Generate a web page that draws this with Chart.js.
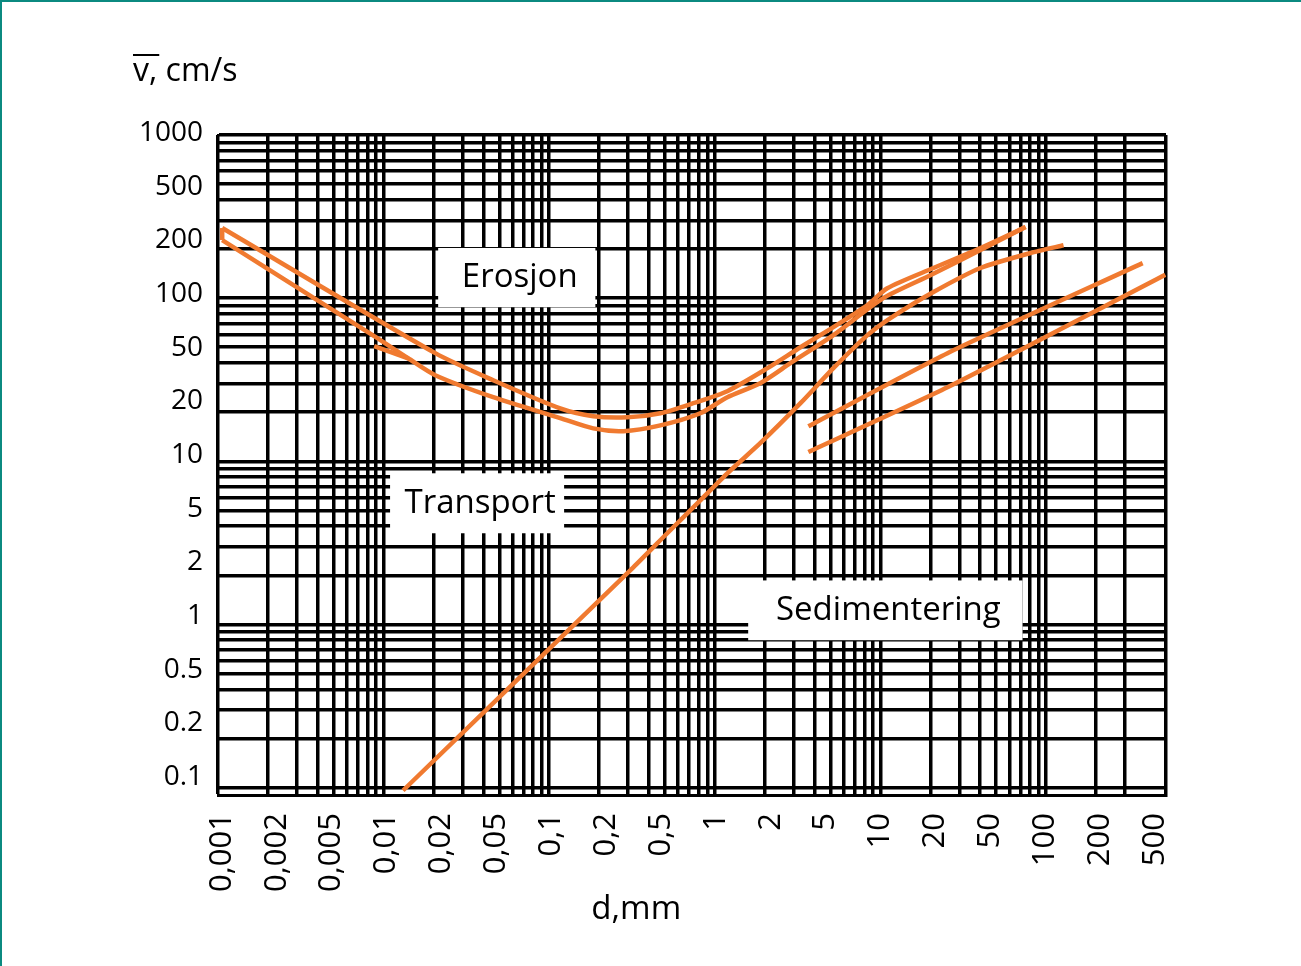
<!DOCTYPE html>
<html>
<head>
<meta charset="utf-8">
<title>Erosjon, transport og sedimentering</title>
<script src="https://cdn.jsdelivr.net/npm/chart.js@4.4.1/dist/chart.umd.min.js"></script>
<style>
  html, body { margin: 0; padding: 0; background: #fff; }
  #wrap { position: relative; width: 1301px; height: 966px; }
  #frame { position: absolute; left: 0; top: 0; right: 0; bottom: 0;
           border-left: 2px solid #0b8a80; border-top: 2px solid #0b8a80; pointer-events: none; }
</style>
</head>
<body>
<div id="wrap">
  <canvas id="chart" width="1301" height="966"></canvas>
  <div id="frame"></div>
</div>
<script>
// tick labels (drawn evenly spaced, as in the printed figure)
const xTickLabels = ['0,001', '0,002', '0,005', '0,01', '0,02', '0,05', '0,1', '0,2', '0,5',
  '1', '2', '5', '10', '20', '50', '100', '200', '500'];
const yTickLabels = ['1000', '500', '200', '100', '50', '20', '10', '5', '2', '1', '0.5', '0.2', '0.1'];

// log grid: lines at 1..9 in every decade
const gridSteps = [1, 2, 3, 4, 5, 6, 7, 8, 9];
const xDecades = [0.001, 0.01, 0.1, 1, 10];
const xExtraGrid = [100, 200, 300];
const yDecades = [0.1, 1, 10, 100];
const yExtraGrid = [1000];

// d in mm, v in cm/s
const bandEndD = [0.00106, 0.00106];
const bandEndV = [227, 269];

const erosionUpperD = [0.00106, 0.0205, 0.0459, 0.1165, 0.1845, 0.296, 0.469, 0.741, 1.19, 2.08, 3.29, 5.2, 8.35, 11.0, 20.9, 40.2, 75.2];
const erosionUpperV = [269, 46.0, 31.4, 21.1, 18.9, 18.6, 19.7, 22.7, 26.9, 37.2, 50.0, 66.4, 90.6, 115, 153, 203, 273];

const erosionLowerD = [0.00106, 0.00877, 0.01406, 0.0205, 0.0459, 0.1165, 0.1845, 0.28, 0.469, 0.817, 1.19, 1.88, 2.86, 5.2, 10.4, 20.0, 40.2, 75.2];
const erosionLowerV = [227, 58.5, 42.8, 33.7, 24.7, 18.4, 15.9, 15.3, 16.6, 19.7, 24.7, 30.1, 39.9, 59.3, 100, 138, 197, 273];

const spurD = [0.00877, 0.01406];
const spurV = [50.8, 42.8];

const fallD = [0.0131, 0.322, 0.516, 0.817, 1.19, 1.88, 3.29, 5.2, 8.35, 11.5, 20.9, 40.2, 80.6, 127.5];
const fallV = [0.0959, 2.24, 3.62, 5.76, 8.44, 12.9, 22.7, 37.2, 59.3, 75.4, 109, 153, 189, 211];

const coarseUpperD = [3.67, 25.4, 383];
const coarseUpperV = [16.4, 46.0, 164];

const coarseLowerD = [3.67, 25.4, 525];
const coarseLowerV = [11.4, 28.4, 139];

// region labels, boxes given in data units (d range, v range)
const regions = [
  { text: 'Erosjon', d: [0.02135, 0.19], v: [203, 88] },
  { text: 'Transport', d: [0.01094, 0.123], v: [8.44, 3.62] },
  { text: 'Sedimentering', d: [1.59, 72.1], v: [1.86, 0.80] },
];

const ORANGE = '#f07a30';

function gridValues(decades, extra) {
  const out = [];
  decades.forEach(dec => gridSteps.forEach(k => out.push(+(k * dec).toPrecision(3))));
  return out.concat(extra);
}

function toPoints(ds, vs) {
  return ds.map((d, i) => ({ x: d, y: vs[i] }));
}

function curve(ds, vs, tension) {
  return {
    data: toPoints(ds, vs),
    showLine: true,
    borderColor: ORANGE,
    backgroundColor: ORANGE,
    borderWidth: 4.5,
    pointRadius: 0,
    tension: tension,
    borderJoinStyle: 'round',
    fill: false,
  };
}

const xMin = 0.001, xMax = 530;
const yMin = 0.09, yMax = 1000;

// white boxes with the region names, the axis titles
const textPlugin = {
  id: 'texts',
  beforeDatasetsDraw(chart) {
    const { ctx, scales } = chart;
    ctx.save();
    ctx.font = '33px "Open Sans"';
    ctx.textAlign = 'center';
    ctx.textBaseline = 'middle';
    regions.forEach(r => {
      const x1 = scales.x.getPixelForValue(r.d[0]);
      const x2 = scales.x.getPixelForValue(r.d[1]);
      const y1 = scales.y.getPixelForValue(r.v[0]);
      const y2 = scales.y.getPixelForValue(r.v[1]);
      ctx.fillStyle = '#fff';
      ctx.fillRect(x1, y1, x2 - x1, y2 - y1);
      ctx.fillStyle = '#000';
      ctx.fillText(r.text, (x1 + x2) / 2 + 3, (y1 + y2) / 2);
    });
    ctx.restore();
  },
  afterDraw(chart) {
    const { ctx, scales } = chart;
    ctx.save();
    ctx.fillStyle = '#000';
    ctx.strokeStyle = '#000';
    ctx.font = '32px "Open Sans"';
    ctx.textAlign = 'left';
    ctx.textBaseline = 'alphabetic';
    // y title with the bar over v
    ctx.fillText('v, cm/s', 133, 81);
    const vw = ctx.measureText('v,').width;
    ctx.lineWidth = 2;
    ctx.beginPath();
    ctx.moveTo(133, 55);
    ctx.lineTo(133 + vw + 2, 55);
    ctx.stroke();
    // x title
    ctx.textAlign = 'center';
    ctx.font = '33px "Open Sans"';
    ctx.fillText('d,mm', scales.xl.getPixelForValue(7.55), 919);
    ctx.restore();
  },
};

Chart.defaults.font.family = '"Open Sans", "DejaVu Sans", sans-serif';

new Chart(document.getElementById('chart'), {
  type: 'scatter',
  data: {
    datasets: [
      curve(bandEndD, bandEndV, 0),
      curve(erosionUpperD, erosionUpperV, 0.25),
      curve(erosionLowerD, erosionLowerV, 0.25),
      curve(spurD, spurV, 0),
      curve(fallD, fallV, 0.2),
      curve(coarseUpperD, coarseUpperV, 0.2),
      curve(coarseLowerD, coarseLowerV, 0.2),
    ],
  },
  options: {
    responsive: false,
    animation: false,
    layout: { padding: { left: 0, right: 135, top: 135, bottom: 0 } },
    plugins: {
      legend: { display: false },
      tooltip: { enabled: false },
    },
    scales: {
      x: {
        type: 'logarithmic',
        position: 'bottom',
        weight: 0,
        min: xMin,
        max: xMax,
        afterBuildTicks: s => { s.ticks = gridValues(xDecades, xExtraGrid).concat([xMax]).map(v => ({ value: v })); },
        afterFit: s => { s.height = 0; },
        ticks: { display: false },
        grid: { color: '#000', lineWidth: 3.5, drawTicks: false },
        border: { display: true, color: '#000', width: 3 },
      },
      xl: {
        type: 'linear',
        position: 'bottom',
        weight: 1,
        min: -0.07,
        max: 17.2,
        afterBuildTicks: s => { s.ticks = xTickLabels.map((_, i) => ({ value: i })); },
        afterFit: s => { s.height = 171; },
        ticks: {
          callback: v => xTickLabels[v],
          autoSkip: false,
          minRotation: 90,
          maxRotation: 90,
          padding: 18,
          color: '#000',
          font: { size: 31 },
        },
        grid: { display: false, drawTicks: false },
        border: { display: false },
      },
      y: {
        type: 'logarithmic',
        position: 'left',
        weight: 0,
        min: yMin,
        max: yMax,
        afterBuildTicks: s => { s.ticks = gridValues(yDecades, yExtraGrid).map(v => ({ value: v })); },
        afterFit: s => { s.width = 0; },
        ticks: { display: false },
        grid: { color: '#000', lineWidth: 3.5, drawTicks: false },
        border: { display: true, color: '#000', width: 2 },
      },
      yl: {
        type: 'linear',
        position: 'left',
        weight: 1,
        reverse: true,
        min: 0.037,
        max: 12.335,
        afterBuildTicks: s => { s.ticks = yTickLabels.map((_, i) => ({ value: i })); },
        afterFit: s => { s.width = 218; },
        ticks: {
          callback: v => yTickLabels[v],
          autoSkip: false,
          padding: 15,
          color: '#000',
          font: { size: 28 },
        },
        grid: { display: false, drawTicks: false },
        border: { display: false },
      },
    },
  },
  plugins: [textPlugin],
});
</script>
</body>
</html>
